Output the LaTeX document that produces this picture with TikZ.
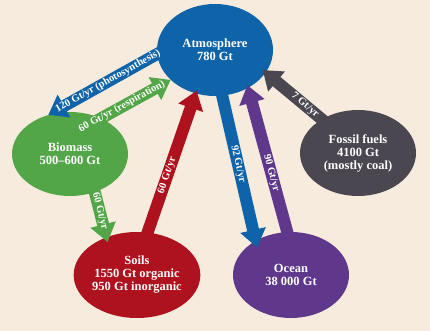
\documentclass[tikz,border=0pt]{standalone}
\usepackage{fontspec}
\setmainfont{Liberation Serif}
\usepackage{xcolor}
\usetikzlibrary{arrows.meta,shapes.geometric}
\definecolor{cream}{RGB}{246, 235, 221}
\definecolor{atmblue}{RGB}{14, 99, 169}
\definecolor{biogreen}{RGB}{82, 166, 72}
\definecolor{soilred}{RGB}{174, 18, 30}
\definecolor{oceanpurple}{RGB}{95, 56, 140}
\definecolor{fossilgray}{RGB}{74, 71, 80}

\begin{document}
\begin{tikzpicture}[x=1pt, y=-1pt,
    pool/.style={ellipse, fill=#1, text=white, align=center, inner sep=0pt,
        minimum width=116pt, minimum height=86pt,
        font=\bfseries\fontsize{12.5}{13}\selectfont},
    flux/.style={draw=#1, line width=12pt, shorten <=-8pt,
        -{Triangle[length=18pt,width=25pt]}},
    rate/.style={sloped, text=white, inner sep=0pt,
        font=\bfseries\fontsize{10.5}{12}\selectfont}]
    \fill[cream] (0,0) rectangle (430,331);
    \useasboundingbox (0,0) rectangle (430,331);

    % Reservoirs
    \node[pool=atmblue, minimum height=92pt] (atm) at (215,50) {Atmosphere\\780 Gt};
    \node[pool=biogreen, minimum height=84pt] (bio) at (70,154) {Biomass\\500--600 Gt};
    \node[pool=soilred] (soil) at (137,275) {Soils\\1550 Gt organic\\950 Gt inorganic};
    \node[pool=oceanpurple] (ocean) at (291,275) {Ocean\\38 000 Gt};
    \node[pool=fossilgray] (fossil) at (358,153) {Fossil fuels\\4100 Gt\\(mostly coal)};

    % Fluxes
    \draw[flux=atmblue] (atm.184) -- node[rate, pos=0.45] (lphoto) {120 Gt/yr (photosynthesis)} (bio.119);
    \draw[flux=biogreen] (bio.49) -- node[rate, pos=0.3] (lresp) {60 Gt/yr (respiration)} (atm.214);
    \draw[flux=biogreen, shorten >=-5pt] (bio.-57) -- node[rate, pos=0.43] (llitter) {60 Gt/yr} (soil.129);
    \draw[flux=soilred, shorten >=-3pt] (soil.76) -- node[rate, pos=0.41] (lsoil) {60 Gt/yr} (atm.246);
    \draw[flux=atmblue, shorten >=-7pt] (atm.-81) -- node[rate, pos=0.47] (ldown) {92 Gt/yr} (ocean.136);
    \draw[flux=oceanpurple, shorten >=-3pt] (ocean.95) -- node[rate, pos=0.41] (lup) {90 Gt/yr} (atm.-49);
    \draw[flux=fossilgray, shorten >=-4pt] (fossil.137) -- node[rate, pos=0.3] (lfossil) {7 Gt/yr} (atm.-24);
\end{tikzpicture}
\end{document}
